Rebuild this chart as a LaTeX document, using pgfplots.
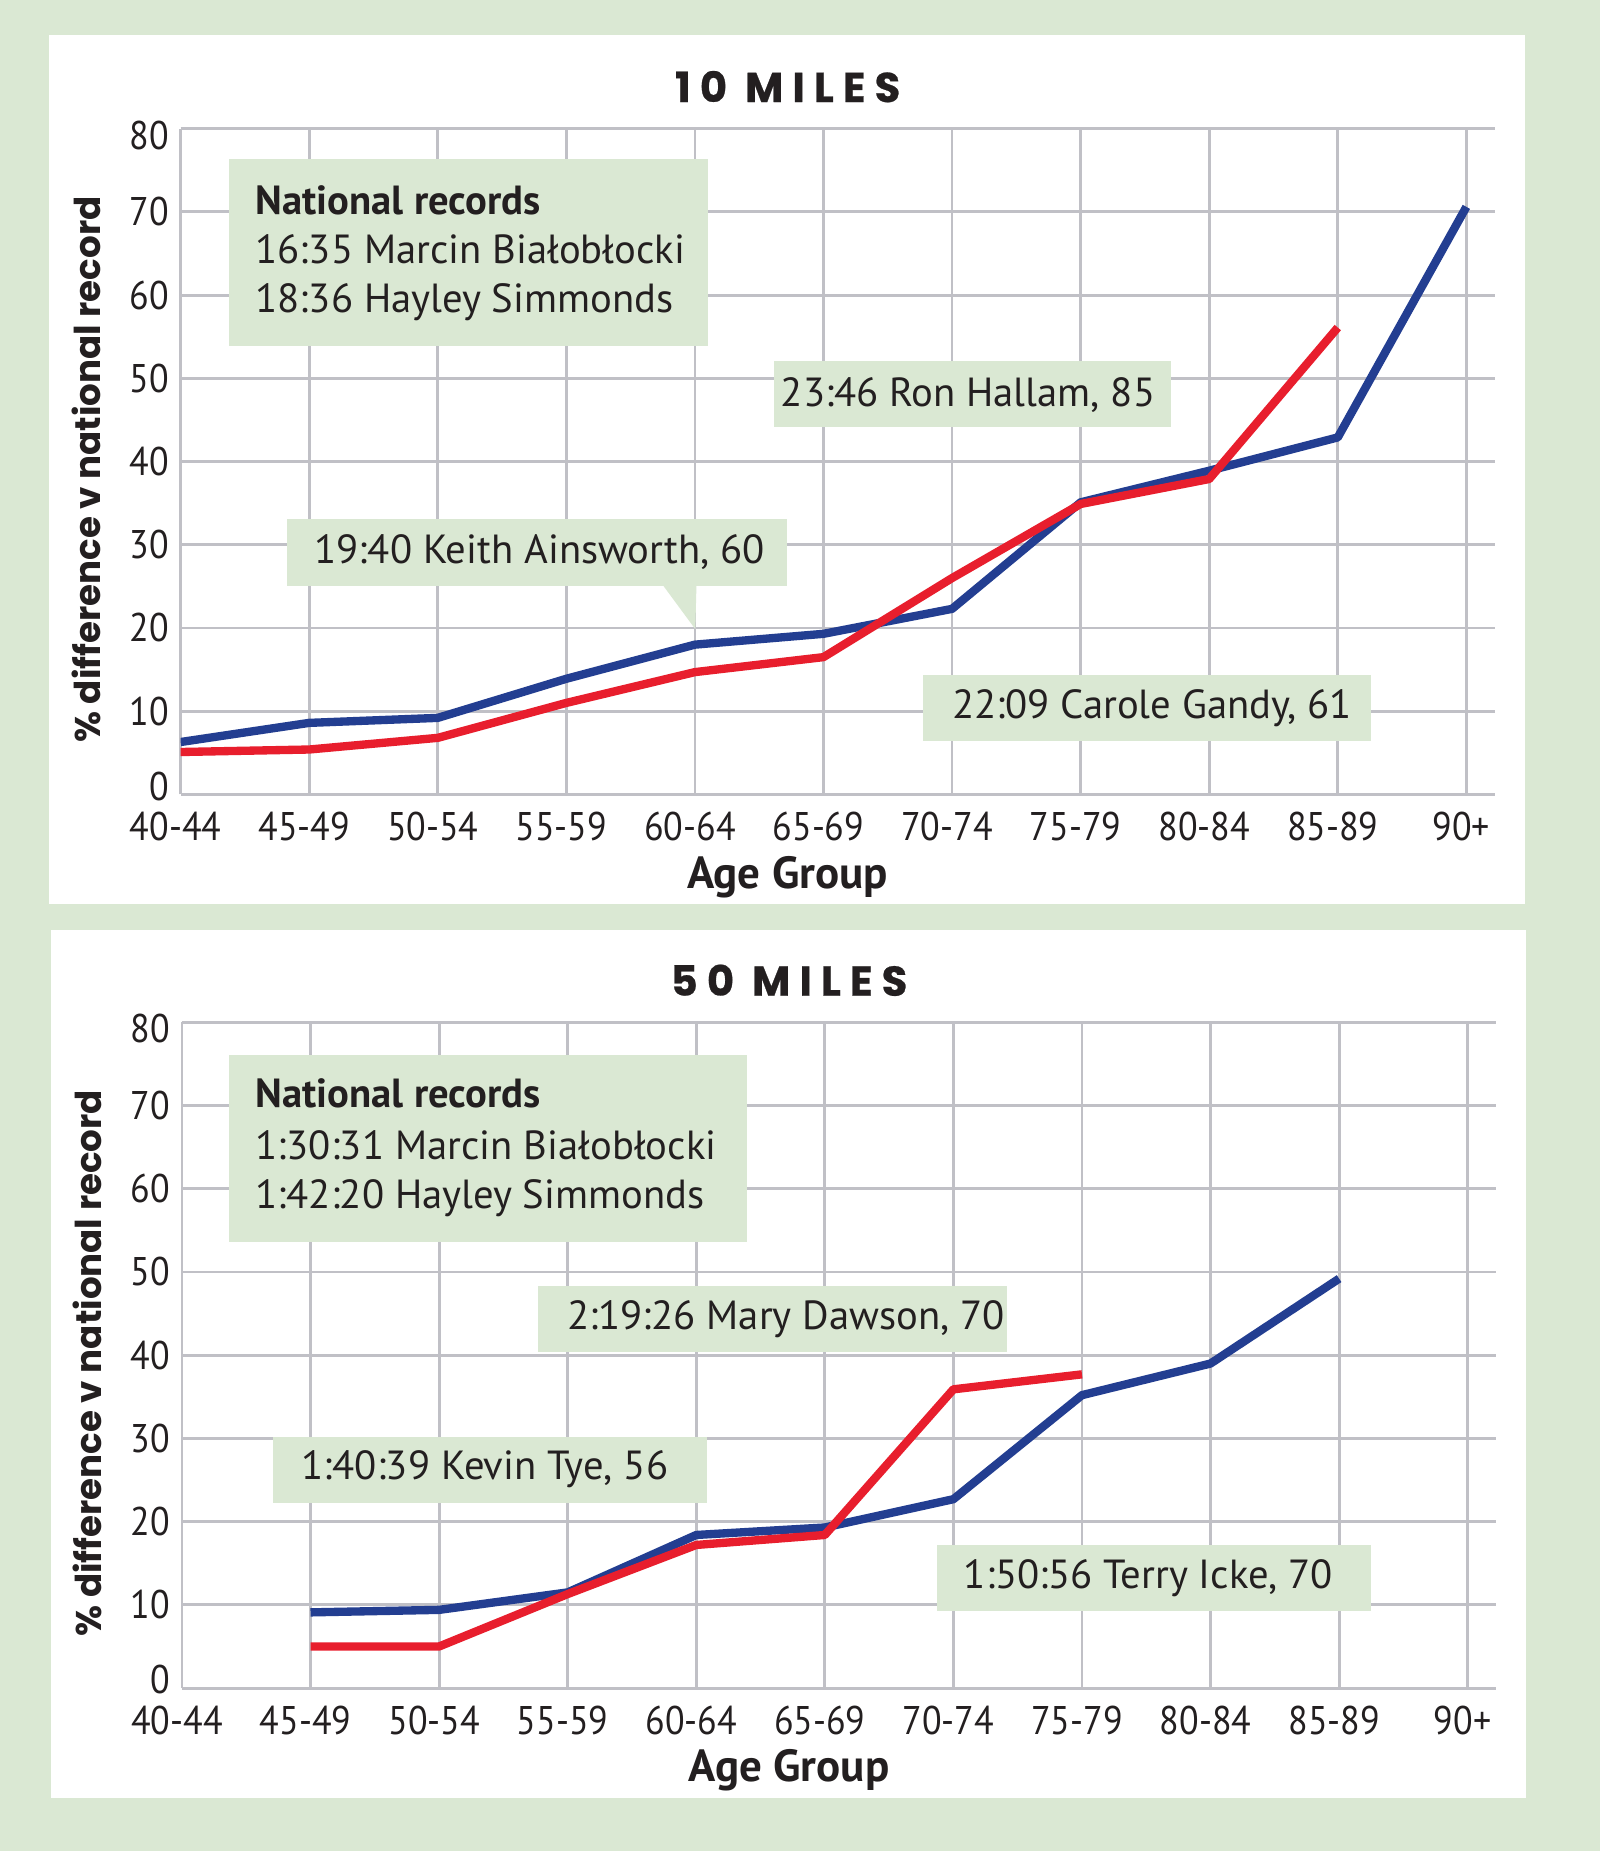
\documentclass[border=0pt]{standalone}
\usepackage{pgfplots}
\usepackage{pgfplotstable}
\pgfplotsset{compat=1.18}
\usepackage{fontspec}
\setmainfont{PT Sans}
\newfontfamily\tickfont{PT Sans}[FakeStretch=0.9]
\newfontfamily\headfont{Poppins}[LetterSpace=22, FakeBold=0.6]
\newfontfamily\labfont{Poppins}

\definecolor{bggreen}{RGB}{218,232,211}
\definecolor{gridgray}{RGB}{192,192,198}
\definecolor{lineblue}{RGB}{35,62,145}
\definecolor{linered}{RGB}{232,30,45}
\definecolor{txt}{RGB}{35,31,32}

% % difference v national record, by age group (0 = 40-44 ... 10 = 90+)
\pgfplotstableread{
x  men   women
0  6.3   5.1
1  8.6   5.4
2  9.2   6.8
3  13.9  11.0
4  18.0  14.7
5  19.3  16.5
6  22.3  26.0
7  35.1  34.9
8  38.9  37.9
9  42.9  56.1
10 70.6  nan
}\tenmiles

\pgfplotstableread{
x  men   women
0  nan   nan
1  9.1   5.0
2  9.4   5.0
3  11.5  11.3
4  18.4  17.2
5  19.3  18.4
6  22.7  35.9
7  35.2  37.7
8  39.0  nan
9  49.2  nan
10 nan   nan
}\fiftymiles

\pgfplotsset{
  racechart/.style={
    scale only axis, width=394.3pt, height=199.8pt,
    anchor=south west,
    xmin=0, xmax=10.22, ymin=0, ymax=80,
    xtick={0,...,10},
    xticklabels={40-44,45-49,50-54,55-59,60-64,65-69,70-74,75-79,80-84,85-89,90+},
    ytick={0,10,...,80},
    grid=major, major grid style={draw=gridgray, line width=0.85pt},
    axis line style={draw=none}, major tick length=0pt,
    tick label style={font=\tickfont\fontsize{12}{14}\selectfont, text=txt},
    xticklabel style={yshift=-1.8pt, xshift=-1.5pt},
    yticklabel style={yshift={ifthenelse(\ticknum==0,2.5,ifthenelse(\ticknum==8,-2,0))*1pt}},
    /pgf/number format/assume math mode=true,
    unbounded coords=jump,
    title style={at={(0.462,1.033)}, anchor=center,
      font=\headfont\bfseries\fontsize{12.5}{14}\selectfont, text=txt},
    xlabel={Age Group},
    xlabel style={at={(0.462,-0.124)}, anchor=center,
      font=\bfseries\fontsize{13.5}{15}\selectfont, text=txt},
    ylabel={\% difference v national record},
    ylabel style={at={(-0.0718,0.488)}, anchor=center,
      font=\labfont\bfseries\fontsize{10.7}{13}\selectfont, text=txt},
    every axis plot/.append style={line width=2.5pt, line join=round},
  }
}

\begin{document}
\begin{tikzpicture}
% background and white panels (coordinates in reference pixels)
\begin{scope}[x=0.35424pt, y=-0.35424pt, yshift=555.45pt]
  \fill[bggreen] (0,0) rectangle (1355,1568);
  \fill[white] (41.5,29.5) rectangle (1291.5,765.5);
  \fill[white] (43,787.5) rectangle (1293,1523);
\end{scope}

\begin{axis}[racechart, at={(54.2pt,317.05pt)}, title={10 MILES}]
  \addplot[lineblue] table[x=x, y=men] {\tenmiles};
  \addplot[linered] table[x=x, y=women] {\tenmiles};
\end{axis}

\begin{axis}[racechart, at={(54.6pt,48.89pt)}, title={50 MILES}]
  \addplot[lineblue] table[x=x, y=men] {\fiftymiles};
  \addplot[linered] table[x=x, y=women] {\fiftymiles};
\end{axis}

% annotation boxes
\begin{scope}[x=0.35424pt, y=-0.35424pt, yshift=555.45pt,
  every node/.style={anchor=base west, inner sep=0pt, text=txt,
    font=\fontsize{12.2}{14}\selectfont}]
  % 10 miles
  \fill[bggreen] (194,135) rectangle (600,293);
  \node[font=\bfseries\fontsize{12.2}{14}\selectfont] at (216,182) {National records};
  \node at (216,223) {16:35 Marcin Białobłocki};
  \node at (216,265) {18:36 Hayley Simmonds};

  \fill[bggreen] (656,306) rectangle (992,362);
  \node at (661,344) {23:46 Ron Hallam, 85};

  \fill[bggreen] (243,440) rectangle (667,496);
  \fill[bggreen] (561,495) -- (590,495) -- (589,533) -- cycle;
  \node at (266,477) {19:40 Keith Ainsworth, 60};

  \fill[bggreen] (782,572) rectangle (1161,628);
  \node at (806,609) {22:09 Carole Gandy, 61};

  % 50 miles
  \fill[bggreen] (194,894) rectangle (633,1052);
  \node[font=\bfseries\fontsize{12.2}{14}\selectfont] at (216,938) {National records};
  \node at (216,982) {1:30:31 Marcin Białobłocki};
  \node at (216,1024) {1:42:20 Hayley Simmonds};

  \fill[bggreen] (456,1089) rectangle (853,1145);
  \node at (480,1126) {2:19:26 Mary Dawson, 70};

  \fill[bggreen] (231,1217) rectangle (599,1273);
  \node at (255,1253) {1:40:39 Kevin Tye, 56};

  \fill[bggreen] (794,1309) rectangle (1161,1365);
  \node at (816,1346) {1:50:56 Terry Icke, 70};
\end{scope}
\end{tikzpicture}
\end{document}
